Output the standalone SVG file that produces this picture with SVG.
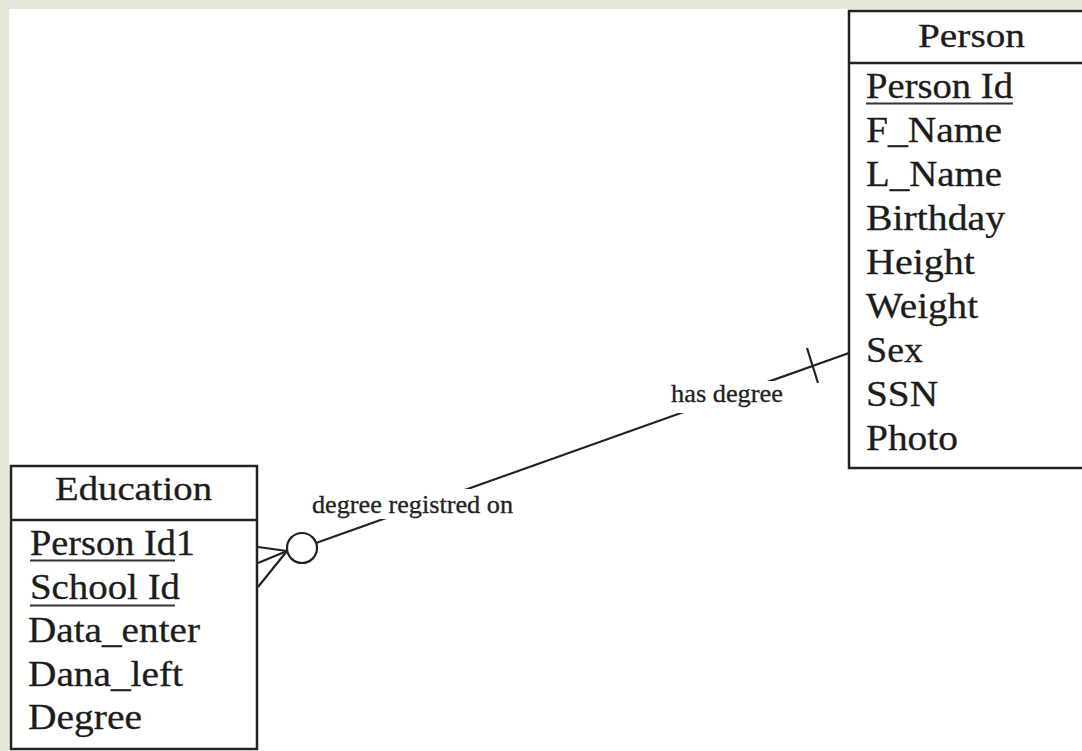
<svg xmlns="http://www.w3.org/2000/svg" width="1082" height="751" viewBox="0 0 1082 751">
  <defs>
    <style>
      .box { fill: #ffffff; stroke: #222222; stroke-width: 2.5; }
      .div { stroke: #222222; stroke-width: 2.5; }
      .t { font-family: "Liberation Serif", "Times New Roman", serif; font-size: 35px; fill: #1c1c1c; stroke: #1c1c1c; stroke-width: 0.3; }
      .h { font-family: "Liberation Serif", "Times New Roman", serif; font-size: 34px; fill: #1c1c1c; stroke: #1c1c1c; stroke-width: 0.3; }
      .ul { stroke: #333333; stroke-width: 2; }
      .ln { stroke: #222222; stroke-width: 2.2; fill: none; }
      .lbl { font-family: "Liberation Serif", "Times New Roman", serif; font-size: 25px; fill: #222222; stroke: #222222; stroke-width: 0.3; }
      .lblbg { fill: #ffffff; }
    </style>
  </defs>
  <rect x="0" y="0" width="1082" height="751" fill="#e8e8d8"/>
  <rect x="9" y="9" width="1073" height="742" fill="#ffffff"/>

  <g id="connectors">
    <line class="ln" x1="849" y1="353" x2="316" y2="543"/>
    <line class="ln" x1="807" y1="348" x2="818" y2="383"/>
    <line class="ln" x1="287" y1="551" x2="258" y2="547"/>
    <line class="ln" x1="287" y1="551" x2="258" y2="563"/>
    <line class="ln" x1="287" y1="551" x2="258" y2="587"/>
    <circle class="ln" cx="302" cy="548" r="15" fill="#ffffff"/>
    <rect class="lblbg" x="668" y="381" width="118" height="32"/>
    <text class="lbl" x="671" y="402" textLength="112" lengthAdjust="spacingAndGlyphs">has degree</text>
    <rect class="lblbg" x="308" y="489" width="210" height="30"/>
    <text class="lbl" x="312" y="513" textLength="201" lengthAdjust="spacingAndGlyphs">degree registred on</text>
  </g>

  <g id="person">
    <rect class="box" x="849" y="11" width="260" height="457"/>
    <line class="div" x1="849" y1="63" x2="1109" y2="63"/>
    <text class="h" x="918" y="47" textLength="107" lengthAdjust="spacingAndGlyphs">Person</text>
    <text class="t" x="866" y="98" textLength="147" lengthAdjust="spacingAndGlyphs">Person Id</text>
    <line class="ul" x1="866" y1="103.5" x2="1013" y2="103.5"/>
    <text class="t" x="866" y="142" textLength="136" lengthAdjust="spacingAndGlyphs">F_Name</text>
    <text class="t" x="866" y="186" textLength="136" lengthAdjust="spacingAndGlyphs">L_Name</text>
    <text class="t" x="866" y="230" textLength="139" lengthAdjust="spacingAndGlyphs">Birthday</text>
    <text class="t" x="866" y="274" textLength="109" lengthAdjust="spacingAndGlyphs">Height</text>
    <text class="t" x="866" y="318" textLength="112" lengthAdjust="spacingAndGlyphs">Weight</text>
    <text class="t" x="866" y="362" textLength="57" lengthAdjust="spacingAndGlyphs">Sex</text>
    <text class="t" x="866" y="406" textLength="72" lengthAdjust="spacingAndGlyphs">SSN</text>
    <text class="t" x="866" y="450" textLength="92" lengthAdjust="spacingAndGlyphs">Photo</text>
  </g>

  <g id="education">
    <rect class="box" x="11" y="466" width="246" height="283"/>
    <line class="div" x1="11" y1="520" x2="257" y2="520"/>
    <text class="h" x="55" y="500" textLength="157" lengthAdjust="spacingAndGlyphs">Education</text>
    <text class="t" x="30" y="555" textLength="165" lengthAdjust="spacingAndGlyphs">Person Id1</text>
    <line class="ul" x1="30" y1="560.5" x2="175" y2="560.5"/>
    <text class="t" x="30" y="598.5" textLength="150" lengthAdjust="spacingAndGlyphs">School Id</text>
    <line class="ul" x1="30" y1="605.5" x2="175" y2="605.5"/>
    <text class="t" x="28" y="642" textLength="172" lengthAdjust="spacingAndGlyphs">Data_enter</text>
    <text class="t" x="28" y="685.5" textLength="155" lengthAdjust="spacingAndGlyphs">Dana_left</text>
    <text class="t" x="28" y="729" textLength="114" lengthAdjust="spacingAndGlyphs">Degree</text>
  </g>
</svg>
